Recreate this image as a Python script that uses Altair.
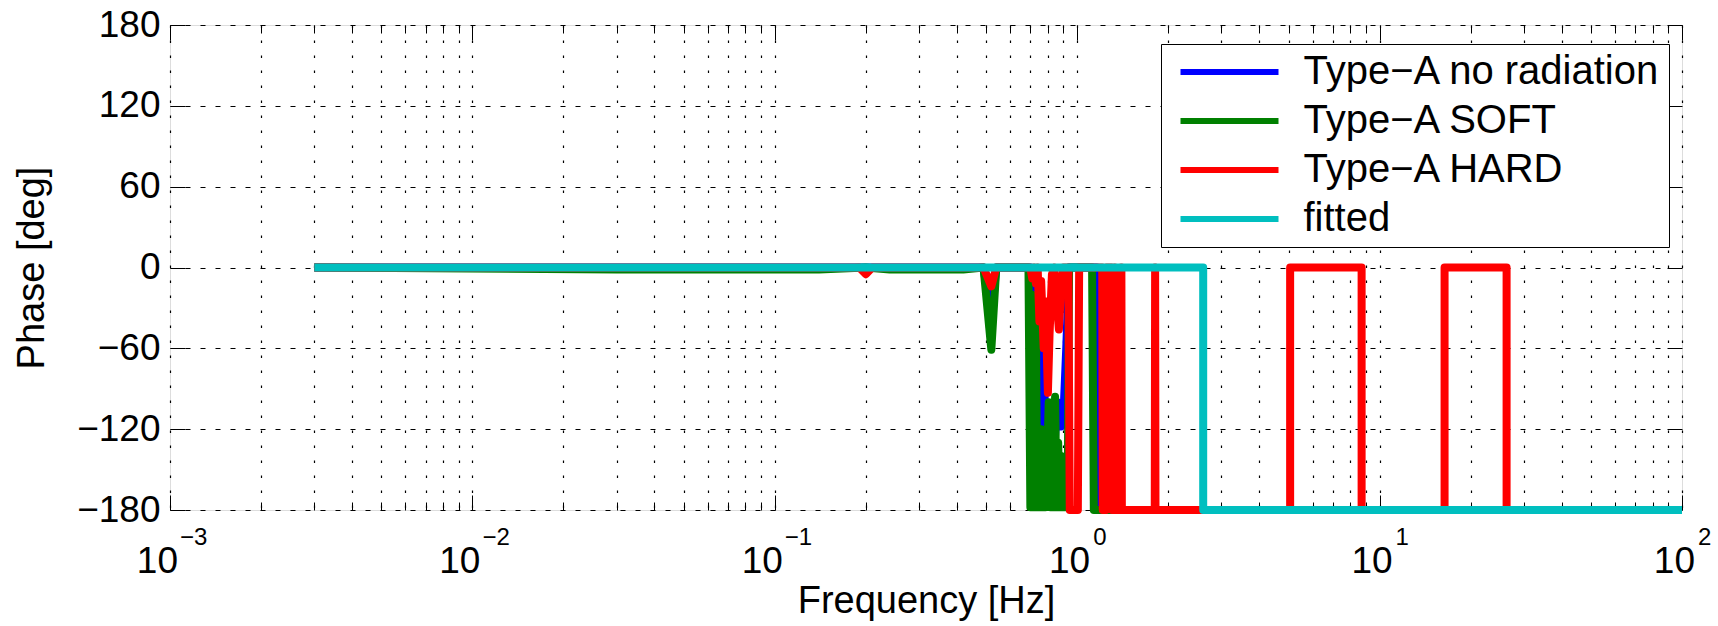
import altair as alt
import pandas as pd

SERIES = ["Type−A no radiation", "Type−A SOFT", "Type−A HARD", "fitted"]
COLORS = ["#0000ff", "#008000", "#ff0000", "#00bfbf"]

# Phase curves: frequency [Hz] and phase [deg]
BLUE_F = [0.003, 0.49, 0.52, 0.54, 0.70, 0.715, 0.73, 0.745, 0.76, 0.775, 0.79, 0.80,
          0.83, 0.86, 0.885, 0.905, 0.92, 0.94, 1.16, 1.175, 100]
BLUE_P = [0, 0, -40, 0, 0, -120, -10, -90, -150, -60, -160, -120,
          -150, -100, -118, -98, -60, 0, 0, -180, -180]

GREEN_F = [0.003, 0.03, 0.14, 0.2, 0.24, 0.42, 0.49, 0.52, 0.54, 0.69,
           0.700, 0.706, 0.712, 0.718, 0.724, 0.730, 0.737, 0.745, 0.752, 0.760,
           0.768, 0.776, 0.785, 0.795, 0.805, 0.815, 0.825, 0.835, 0.845, 0.855,
           0.865, 0.875, 0.885, 0.895, 0.905, 0.915, 0.93, 0.94, 1.12, 1.135, 100]
GREEN_P = [0, -1.5, -1.5, 0, -1.5, -1.5, 0, -61, 0, 0,
           -178, -20, -178, -40, -178, -30, -178, -150, -178, -120,
           -178, -140, -178, -150, -100, -178, -120, -178, -96, -178,
           -130, -178, -140, -178, -150, -178, -178, 0, 0, -180, -180]

RED_F = [0.003, 0.19, 0.2, 0.21, 0.49, 0.52, 0.54, 0.70, 0.71, 0.72, 0.73, 0.74,
         0.75, 0.76, 0.775, 0.785, 0.80, 0.81, 0.825, 0.84, 0.855, 0.87, 0.885, 0.90,
         0.935, 0.945, 1.005, 1.015, 1.21, 1.215, 1.245, 1.25, 1.30, 1.305, 1.325, 1.33,
         1.335, 1.395, 1.40, 1.405, 1.805, 1.81, 1.815, 5.06, 5.06, 8.72, 8.72, 16.4,
         16.4, 26.3, 26.3, 100]
RED_P = [0, 0, -5, 0, 0, -14, 0, 0, -8, 0, -12, 0,
         -40, -10, -60, -25, -93, -50, -5, 0, -25, -46, -15, 0,
         0, -180, -180, 0, 0, -180, -180, 0, 0, -180, -180, 0,
         -180, -180, 0, -180, -180, 0, -180, -180, 0, 0, -180, -180,
         0, 0, -180, -180]

CYAN_F = [0.003, 2.61, 2.61, 100]
CYAN_P = [0, 0, -180, -180]

XTICKS = [m * 10.0 ** k for k in range(-3, 2) for m in range(1, 10)] + [100.0]
YTICKS = [-180, -120, -60, 0, 60, 120, 180]
DECADES = [0.001, 0.01, 0.1, 1, 10, 100]
EXPONENTS = ["−3", "−2", "−1", "0", "1", "2"]

FONT = "Liberation Sans"
W, H = 1512, 485

rows = []
for name, fs, ps in zip(SERIES, [BLUE_F, GREEN_F, RED_F, CYAN_F],
                        [BLUE_P, GREEN_P, RED_P, CYAN_P]):
    for i, (f, p) in enumerate(zip(fs, ps)):
        rows.append({"series": name, "i": i, "f": f, "p": p})
df = pd.DataFrame(rows)

dec = pd.DataFrame({"f": DECADES, "base": ["10"] * len(DECADES), "exp": EXPONENTS,
                    "neg": [e.startswith("−") for e in EXPONENTS]})

xs = alt.Scale(type="log", domain=[0.001, 100], nice=False)
ys = alt.Scale(domain=[-180, 180], nice=False)

MAJOR = "abs(log(datum.value)/LN10 - round(log(datum.value)/LN10)) < 0.01"
XTICK_SIZE = {"condition": {"test": MAJOR, "value": 15}, "value": 8}

LEGEND = alt.Legend(
    title=None, orient="none", legendX=991, legendY=19, direction="vertical",
    symbolType="stroke", symbolSize=9604, symbolStrokeWidth=6, symbolOffset=8.5,
    clipHeight=40, labelFont=FONT, labelFontSize=40, labelColor="black",
    labelOffset=22, labelLimit=0, padding=8, rowPadding=9,
    strokeColor="black", fillColor="white",
)
color = alt.Color("series:N", scale=alt.Scale(domain=SERIES, range=COLORS),
                  sort=SERIES, legend=LEGEND)

# Main axes: grid, y labels, titles
main = alt.Chart(df).mark_point(opacity=0).encode(
    x=alt.X("f:Q", scale=xs, axis=alt.Axis(
        orient="bottom", values=XTICKS, grid=True, gridColor="black", gridWidth=1.2,
        gridDash=[2.5, 12.5], gridOpacity=1, ticks=False, tickSize=0, labels=False,
        domain=False, title="Frequency [Hz]", titleFont=FONT, titleFontSize=38,
        titleFontWeight="normal", titleColor="black", titleX=756, titleY=102,
        titleAlign="center", titleBaseline="alphabetic")),
    y=alt.Y("p:Q", scale=ys, axis=alt.Axis(
        orient="left", values=YTICKS, grid=True, gridColor="black", gridWidth=1.2,
        gridDash=[5, 10], gridOpacity=1, ticks=False, tickSize=0, labels=True,
        labelFont=FONT, labelFontSize=37, labelColor="black", labelPadding=10,
        labelOverlap=False, domain=False, title="Phase [deg]", titleFont=FONT,
        titleFontSize=38, titleFontWeight="normal", titleColor="black",
        titleX=-127, titleY=H / 2, titleAngle=-90, titleAlign="center",
        titleBaseline="alphabetic")),
)

# Inward ticks on the bottom and left edges
ticks_a = alt.Chart(df).mark_point(opacity=0).encode(
    x=alt.X("f:Q", scale=xs, axis=alt.Axis(
        orient="top", offset=-H, values=XTICKS, grid=False, ticks=True,
        tickSize=XTICK_SIZE, tickColor="black", tickWidth=1, labels=False,
        domain=False, title=None)),
    y=alt.Y("p:Q", scale=ys, axis=alt.Axis(
        orient="right", offset=-W, values=YTICKS, grid=False, ticks=True,
        tickSize=15, tickColor="black", tickWidth=1, labels=False,
        domain=False, title=None)),
)
# Inward ticks on the top and right edges
ticks_b = alt.Chart(df).mark_point(opacity=0).encode(
    x=alt.X("f:Q", scale=xs, axis=alt.Axis(
        orient="bottom", offset=-H, values=XTICKS, grid=False, ticks=True,
        tickSize=XTICK_SIZE, tickColor="black", tickWidth=1, labels=False,
        domain=False, title=None)),
    y=alt.Y("p:Q", scale=ys, axis=alt.Axis(
        orient="left", offset=-W, values=YTICKS, grid=False, ticks=True,
        tickSize=15, tickColor="black", tickWidth=1, labels=False,
        domain=False, title=None)),
)


def lines(name):
    return alt.Chart(df).transform_filter(alt.datum.series == name).mark_line(
        strokeWidth=8, strokeJoin="round"
    ).encode(
        x=alt.X("f:Q", scale=xs, axis=None),
        y=alt.Y("p:Q", scale=ys, axis=None),
        color=color,
        order=alt.Order("i:Q"),
    )


def tick_text(field, neg, align, dx, y, size):
    return alt.Chart(dec).transform_filter(
        alt.datum.neg if neg else ~alt.datum.neg
    ).mark_text(
        align=align, baseline="alphabetic", dx=dx, font=FONT, fontSize=size, color="black"
    ).encode(
        x=alt.X("f:Q", scale=xs, axis=None),
        y=alt.value(y),
        text=f"{field}:N",
    )


labels = [
    tick_text("base", True, "right", 8, H + 63, 37),
    tick_text("base", False, "right", 13, H + 63, 37),
    tick_text("exp", True, "left", 10, H + 35, 24),
    tick_text("exp", False, "left", 16, H + 35, 24),
]

chart = alt.layer(
    main, ticks_a, ticks_b, *[lines(s) for s in SERIES], *labels
).resolve_axis(
    x="independent", y="independent"
).properties(
    width=W, height=H,
    padding={"left": 170, "top": 25, "right": 36, "bottom": 116},
    autosize=alt.AutoSizeParams(type="none"),
).configure_view(
    stroke="black", strokeWidth=1.5
).configure(background="white")

chart.save("out.html", embed_options={"renderer": "svg", "actions": False})
